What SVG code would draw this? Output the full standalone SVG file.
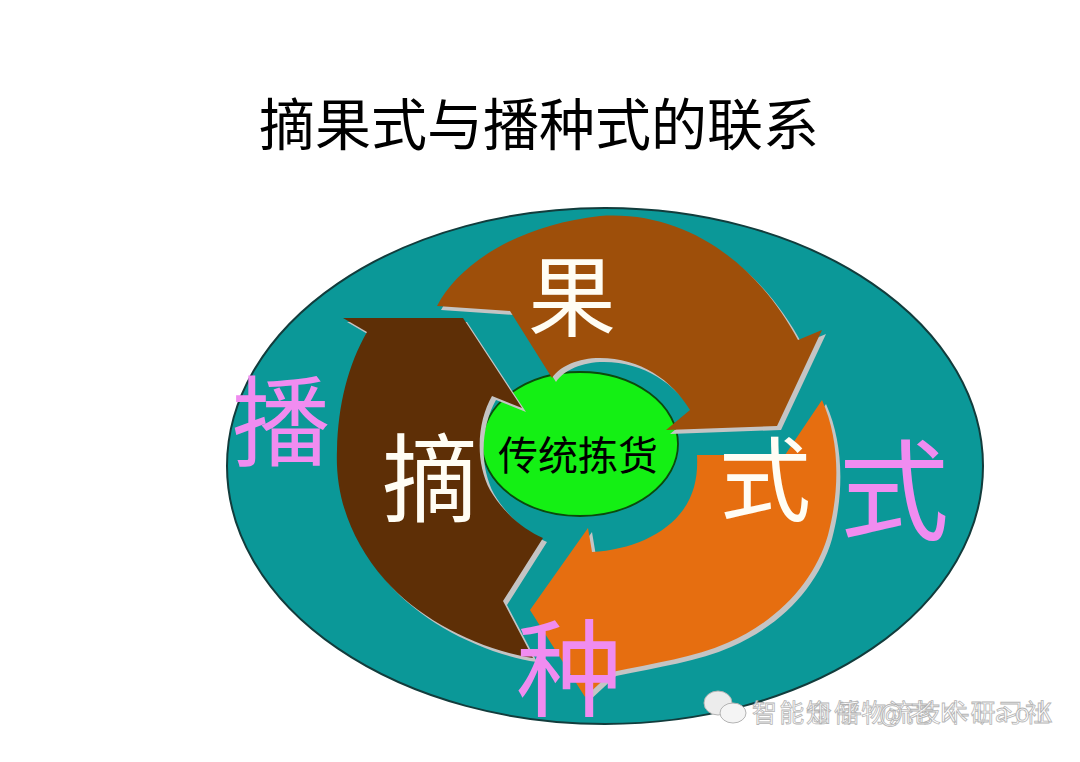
<svg xmlns="http://www.w3.org/2000/svg" width="1080" height="762" viewBox="0 0 1080 762">
<style>
.cjk{font-family:"Noto Sans CJK SC","Noto Sans CJK JP",sans-serif;text-anchor:middle}
.white{fill:#fffdf4}
.pink{fill:#f08cf0}
.shadow{fill:#c4c4c4}
.wm{font-family:"Noto Sans CJK SC",sans-serif;fill:#ffffff;stroke:#a8a8a8;stroke-width:0.8;opacity:0.85}
</style>
<rect width="1080" height="762" fill="#ffffff"/>
<text class="cjk" x="539" y="145" font-size="56" fill="#000">摘果式与播种式的联系</text>

<g id="background">
<ellipse cx="605" cy="466" rx="378" ry="258" fill="#0b9898" stroke="#123c3c" stroke-width="2"/>
</g>

<g id="center">
<ellipse cx="580" cy="444" rx="98" ry="72" fill="#14f014" stroke="#0c4a0c" stroke-width="1.8"/>
</g>

<g id="arrows">
<g transform="translate(4,4)">
<path class="shadow" d="M437,306 C460,262 520,225 600,216 C690,210 760,268 798,340 L822,330 L777,426 L666,430 L690,410 C672,380 640,358 600,358 C578,358 560,366 552,378 L510,311 Z"/>
<path class="shadow" d="M343,318 L463,318 L522,408 L492,396 C478,420 474,460 490,490 C505,515 525,530 543,538 L503,601 L533,658 C480,650 420,620 385,580 C350,540 335,495 337,450 C338,405 348,365 367,332 Z"/>
<path class="shadow" d="M697,455 L785,455 L822,400 C840,440 840,490 828,535 C815,580 780,620 727,643 C695,657 655,663 612,672 L585,697 L530,610 L588,528 L592,552 C630,550 665,535 683,510 C695,493 698,475 697,455 Z"/>
</g>
<path id="arrow-top" fill="#9e4f0a" d="M437,306 C460,262 520,225 600,216 C690,210 760,268 798,340 L822,330 L777,426 L666,430 L690,410 C672,380 640,358 600,358 C578,358 560,366 552,378 L510,311 Z"/>
<path id="arrow-left" fill="#5e2f06" d="M343,318 L463,318 L522,408 L492,396 C478,420 474,460 490,490 C505,515 525,530 543,538 L503,601 L533,658 C480,650 420,620 385,580 C350,540 335,495 337,450 C338,405 348,365 367,332 Z"/>
<path id="arrow-right" fill="#e66e10" d="M697,455 L785,455 L822,400 C840,440 840,490 828,535 C815,580 780,620 727,643 C695,657 655,663 612,672 L585,697 L530,610 L588,528 L592,552 C630,550 665,535 683,510 C695,493 698,475 697,455 Z"/>
</g>

<g id="labels">
<text class="cjk" x="578" y="470" font-size="40" fill="#000">传统拣货</text>
<text class="cjk white" x="572" y="329" font-size="88">果</text>
<text class="cjk white" x="430" y="514" font-size="96">摘</text>
<text class="cjk white" x="765" y="514" font-size="92">式</text>
<text class="cjk pink" x="281" y="458" font-size="98">播</text>
<text class="cjk pink" x="894" y="532" font-size="110">式</text>
<text class="cjk pink" x="569" y="708" font-size="106">种</text>
</g>

<g id="watermark">
<ellipse cx="718" cy="703" rx="14" ry="12" fill="#ececec" stroke="#b4b4b4" stroke-width="1"/>
<ellipse cx="733" cy="713" rx="13" ry="10" fill="#f4f4f4" stroke="#b4b4b4" stroke-width="1"/>
<text class="wm" x="752" y="722" font-size="25" textLength="298">智能仓储物流技术研习社</text>
<text class="wm" x="806" y="722" font-size="25" textLength="246">知乎 @老K-LaoK</text>
</g>
</svg>
